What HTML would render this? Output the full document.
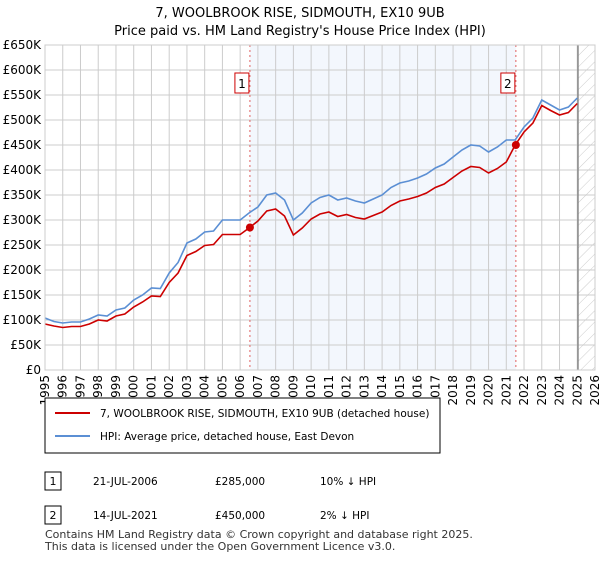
<!DOCTYPE html>
<html><head><meta charset="utf-8"><style>
body{margin:0;background:#fff;font-family:"Liberation Sans","DejaVu Sans",sans-serif;}
svg text{font-family:"DejaVu Sans","Liberation Sans",sans-serif;}
</style></head><body>
<svg id="c" width="600" height="560" xmlns="http://www.w3.org/2000/svg">
<defs><pattern id="hatch" width="8" height="8" patternUnits="userSpaceOnUse" patternTransform="rotate(45)"><line x1="0" y1="0" x2="0" y2="8" stroke="#ccc" stroke-width="1"/></pattern></defs>
<text x="300" y="17" text-anchor="middle" font-size="13">7, WOOLBROOK RISE, SIDMOUTH, EX10 9UB</text>
<text x="300" y="35" text-anchor="middle" font-size="13">Price paid vs. HM Land Registry's House Price Index (HPI)</text>
<g id="plot"></g>
<rect x="45" y="398" width="395" height="55" fill="#fff" stroke="#000" stroke-width="1"/>
<line x1="55" y1="413" x2="90" y2="413" stroke="#cc0000" stroke-width="2"/>
<text x="100" y="417" font-size="10.5">7, WOOLBROOK RISE, SIDMOUTH, EX10 9UB (detached house)</text>
<line x1="55" y1="436" x2="90" y2="436" stroke="#5b8fd4" stroke-width="2"/>
<text x="100" y="440" font-size="10.5">HPI: Average price, detached house, East Devon</text>
<rect x="45" y="472" width="16" height="18" fill="#fff" stroke="#000"/>
<text x="53" y="485" text-anchor="middle" font-size="11">1</text>
<text x="93" y="485" font-size="10.5">21-JUL-2006</text>
<text x="215" y="485" font-size="10.5">£285,000</text>
<text x="320" y="485" font-size="10.5">10% ↓ HPI</text>
<rect x="45" y="506" width="16" height="18" fill="#fff" stroke="#000"/>
<text x="53" y="519" text-anchor="middle" font-size="11">2</text>
<text x="93" y="519" font-size="10.5">14-JUL-2021</text>
<text x="215" y="519" font-size="10.5">£450,000</text>
<text x="320" y="519" font-size="10.5">2% ↓ HPI</text>
<text x="45" y="538" font-size="11" fill="#333">Contains HM Land Registry data © Crown copyright and database right 2025.</text>
<text x="45" y="550" font-size="11" fill="#333">This data is licensed under the Open Government Licence v3.0.</text>
</svg>
<script>
const years=[1995,1995.5,1996,1996.5,1997,1997.5,1998,1998.5,1999,1999.5,2000,2000.5,2001,2001.5,2002,2002.5,2003,2003.5,2004,2004.5,2005,2005.5,2006,2006.5,2007,2007.5,2008,2008.5,2009,2009.5,2010,2010.5,2011,2011.5,2012,2012.5,2013,2013.5,2014,2014.5,2015,2015.5,2016,2016.5,2017,2017.5,2018,2018.5,2019,2019.5,2020,2020.5,2021,2021.5,2022,2022.5,2023,2023.5,2024,2024.5,2025];
const hpiValues=[104,97,94,96,96,102,110,108,120,124,140,150,164,163,194,215,254,262,276,278,300,300,300,314,326,350,354,340,300,314,334,345,350,340,344,338,334,342,350,365,374,378,384,392,404,412,426,440,450,448,436,446,460,460,486,504,540,530,520,526,544];
const priceValues=[92,88,85,87,87,92,100,98,108,112,126,136,148,147,175,194,229,237,249,251,271,271,271,284,298,318,322,308,270,284,302,312,316,307,311,305,302,309,316,329,338,342,347,354,365,372,385,398,407,405,394,403,416,450,476,494,529,519,510,515,533];
const sales=[{label:'1',year:2006.55,price:285},{label:'2',year:2021.54,price:450}];
const yTicks=[0,50,100,150,200,250,300,350,400,450,500,550,600,650];
const xTicks=[1995,1996,1997,1998,1999,2000,2001,2002,2003,2004,2005,2006,2007,2008,2009,2010,2011,2012,2013,2014,2015,2016,2017,2018,2019,2020,2021,2022,2023,2024,2025,2026];
const L=45,R=595,T=45,B=370;
const X=y=>L+(y-1995)/31*(R-L);
const Y=v=>B-v/650*(B-T);
const g=document.getElementById('plot');
const NS='http://www.w3.org/2000/svg';
function mk(t,a){const e=document.createElementNS(NS,t);for(const k in a)e.setAttribute(k,a[k]);g.appendChild(e);return e;}
let e;
e=mk('rect',{x:X(sales[0].year),y:T,width:X(sales[1].year)-X(sales[0].year),height:B-T,fill:'#eef3fc',opacity:0.7});


e=mk('rect',{x:X(2025.04),y:T,width:R-X(2025.04),height:B-T,fill:'url(#hatch)'});


yTicks.forEach(v=>{
 e=mk('line',{x1:L,x2:R,y1:Y(v),y2:Y(v),stroke:'#ccc','stroke-width':1});
 
 
 e=mk('text',{x:L-4,y:Y(v)+4,'text-anchor':'end','font-size':12});
 e.textContent=v===0?'£0':'£'+v+'K';
 
 
});
xTicks.forEach(v=>{
 e=mk('line',{x1:X(v),x2:X(v),y1:T,y2:B,stroke:'#ccc','stroke-width':1});
 
 
 const tx=X(v)+4,ty=B+5;
 e=mk('text',{x:tx,y:ty,'text-anchor':'end','font-size':12,transform:`rotate(-90 ${tx} ${ty})`});
 e.textContent=v;
 
 
});
e=mk('line',{x1:X(2025.04),x2:X(2025.04),y1:T,y2:B,stroke:'#888','stroke-width':1.5});


sales.forEach(s=>{
 e=mk('line',{x1:X(s.year),x2:X(s.year),y1:T,y2:B,stroke:'#e06060','stroke-width':1,'stroke-dasharray':'2,3'});
 
 
});
e=mk('polyline',{points:years.map((y,i)=>X(y)+','+Y(hpiValues[i])).join(' '),fill:'none',stroke:'#5b8fd4','stroke-width':1.6});


e=mk('polyline',{points:years.map((y,i)=>X(y)+','+Y(priceValues[i])).join(' '),fill:'none',stroke:'#cc0000','stroke-width':1.6});


sales.forEach(s=>{
 e=mk('circle',{cx:X(s.year),cy:Y(s.price),r:4,fill:'#cc0000'});
 
 
 e=mk('rect',{x:X(s.year)-15,y:73,width:14,height:20,fill:'#fff',stroke:'#cc0000'});
 
 
 e=mk('text',{x:X(s.year)-8,y:88,'text-anchor':'middle','font-size':12});
 e.textContent=s.label;
 
 
});
e=mk('rect',{x:L,y:T,width:R-L,height:B-T,fill:'none',stroke:'#ccc'});


</script>
</body></html>
